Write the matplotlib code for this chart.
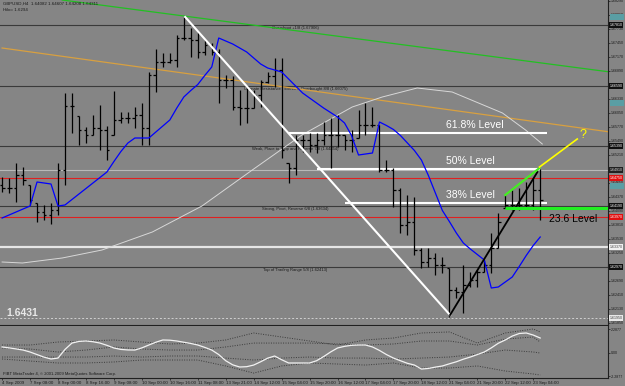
"""GBPUSD H4 chart with Murrey lines and fib levels, MetaTrader style."""
import matplotlib

matplotlib.use("Agg")
import matplotlib.patches as mpatches
import matplotlib.pyplot as plt
import matplotlib.transforms as mtrans

BG = "#858585"
FONT = ["Liberation Sans", "DejaVu Sans"]
plt.rcParams["font.family"] = FONT

# ---- price bars (H4) ----
highs = [1.6477, 1.6475, 1.6505, 1.6497, 1.6461, 1.6425, 1.6421, 1.6425, 1.6505, 1.6645,
         1.6645, 1.6599, 1.6577, 1.6601, 1.6621, 1.6579, 1.6649, 1.6607, 1.6607, 1.6617,
         1.6625, 1.6687, 1.6733, 1.6725, 1.6725, 1.6761, 1.6797, 1.6775, 1.6767, 1.6753,
         1.6745, 1.6733, 1.6681, 1.6679, 1.6651, 1.6655, 1.6651, 1.6671, 1.6687, 1.6715,
         1.6715, 1.6505, 1.6561, 1.6561, 1.6565, 1.6565, 1.6587, 1.6595, 1.6601, 1.6561,
         1.6571, 1.6611, 1.6625, 1.6617, 1.6581, 1.6511, 1.6495, 1.6455, 1.6441, 1.6437,
         1.6335, 1.6335, 1.6325, 1.6317, 1.6295, 1.6257, 1.6301, 1.6287, 1.6291, 1.6311,
         1.6365, 1.6405, 1.6441, 1.6451, 1.6455, 1.6467, 1.6475, 1.6493]
lows = [1.6447, 1.6445, 1.6427, 1.6461, 1.6421, 1.6387, 1.6391, 1.6383, 1.6401, 1.6461,
        1.6565, 1.6541, 1.6545, 1.6561, 1.6531, 1.6511, 1.6561, 1.6585, 1.6585, 1.6575,
        1.6541, 1.6541, 1.6647, 1.6697, 1.6705, 1.6697, 1.6751, 1.6717, 1.6715, 1.6721,
        1.6721, 1.6625, 1.6655, 1.6611, 1.6581, 1.6585, 1.6615, 1.6617, 1.6665, 1.6657,
        1.6515, 1.6465, 1.6481, 1.6527, 1.6527, 1.6525, 1.6541, 1.6495, 1.6537, 1.6531,
        1.6527, 1.6555, 1.6561, 1.6577, 1.6487, 1.6487, 1.6417, 1.6365, 1.6361, 1.6321,
        1.6295, 1.6297, 1.6281, 1.6285, 1.6197, 1.6235, 1.6205, 1.6257, 1.6257, 1.6287,
        1.6285, 1.6335, 1.6415, 1.6411, 1.6411, 1.6415, 1.6411, 1.6391]
opens = [1.6461, 1.6455, 1.6455, 1.6481, 1.6461, 1.6425, 1.6407, 1.6401, 1.6411, 1.6491,
         1.6619, 1.6599, 1.6571, 1.6561, 1.6575, 1.6571, 1.6561, 1.6591, 1.6595, 1.6595,
         1.6601, 1.6575, 1.6681, 1.6707, 1.6707, 1.6711, 1.6755, 1.6755, 1.6751, 1.6727,
         1.6741, 1.6727, 1.6671, 1.6671, 1.6617, 1.6615, 1.6615, 1.6641, 1.6667, 1.6679,
         1.6691, 1.6505, 1.6495, 1.6551, 1.6551, 1.6541, 1.6551, 1.6561, 1.6561, 1.6561,
         1.6551, 1.6555, 1.6581, 1.6581, 1.6581, 1.6491, 1.6491, 1.6451, 1.6381, 1.6387,
         1.6331, 1.6307, 1.6315, 1.6301, 1.6295, 1.6251, 1.6247, 1.6261, 1.6271, 1.6287,
         1.6301, 1.6335, 1.6415, 1.6421, 1.6421, 1.6421, 1.6421, 1.6451]
closes = [1.6455, 1.6455, 1.6481, 1.6471, 1.6431, 1.6407, 1.6401, 1.6411, 1.6491, 1.6619,
          1.6619, 1.6571, 1.6561, 1.6575, 1.6571, 1.6531, 1.6591, 1.6595, 1.6595, 1.6601,
          1.6575, 1.6681, 1.6707, 1.6707, 1.6711, 1.6755, 1.6755, 1.6751, 1.6727, 1.6741,
          1.6727, 1.6671, 1.6671, 1.6617, 1.6615, 1.6615, 1.6641, 1.6667, 1.6679, 1.6691,
          1.6531, 1.6495, 1.6551, 1.6551, 1.6541, 1.6551, 1.6561, 1.6561, 1.6561, 1.6551,
          1.6551, 1.6581, 1.6581, 1.6581, 1.6491, 1.6491, 1.6451, 1.6381, 1.6387, 1.6331,
          1.6307, 1.6315, 1.6301, 1.6301, 1.6251, 1.6247, 1.6261, 1.6271, 1.6287, 1.6301,
          1.6335, 1.6387, 1.6421, 1.6421, 1.6421, 1.6421, 1.6451, 1.6431]
ma = [1.6395, 1.6401, 1.6407, 1.6413, 1.6419, 1.6467, 1.6465, 1.6463, 1.6419, 1.6421,
      1.6432, 1.6443, 1.6454, 1.6465, 1.6476, 1.6487, 1.6508, 1.6528, 1.6545, 1.6555,
      1.6555, 1.6555, 1.6567, 1.6579, 1.6591, 1.6615, 1.6637, 1.6650, 1.6662, 1.6680,
      1.6697, 1.6755, 1.6749, 1.6743, 1.6735, 1.6727, 1.6715, 1.6703, 1.6695, 1.6691,
      1.6687, 1.6673, 1.6659, 1.6645, 1.6635, 1.6625, 1.6615, 1.6606, 1.6597, 1.6585,
      1.6560, 1.6521, 1.6523, 1.6525, 1.6587, 1.6580, 1.6572, 1.6560, 1.6545, 1.6530,
      1.6511, 1.6480, 1.6445, 1.6410, 1.6388, 1.6365, 1.6345, 1.6333, 1.6322, 1.6311,
      1.6255, 1.6257, 1.6267, 1.6277, 1.6298, 1.6320, 1.6340, 1.6357]
bars = list(range(len(closes)))

# ---- oscillator panel ----
osc = [0.54, 0.45, 0.35, 0.24, 0.05, -0.20, -0.45, -0.63, -0.54, 0.30,
       0.92, 1.08, 1.12, 1.05, 0.92, 0.70, 0.44, 0.30, 0.25, 0.24,
       0.45, 0.73, 1.00, 1.22, 1.20, 1.12, 1.00, 0.88, 0.73, 0.50,
       0.24, -0.20, -0.80, -1.20, -1.41, -1.38, -1.22, -0.90, -0.55, -0.34,
       -0.70, -1.02, -1.02, -1.02, -1.02, -0.80, -0.40, 0.05, 0.44, 0.60,
       0.70, 0.73, 0.73, 0.54, 0.20, -0.20, -0.54, -0.80, -1.05, -1.22,
       -1.61, -1.55, -1.42, -1.31, -1.10, -0.90, -0.65, -0.44, -0.20, 0.05,
       0.45, 0.90, 1.22, 1.60, 1.85, 1.90, 1.70, 1.41]
band_x = [0, 4, 8, 12, 16, 20, 24, 28, 32, 36, 40, 44, 48, 52, 56, 60, 64, 68, 72, 76, 77]
band_a = [0.73, 0.73, 1.02, 1.12, 1.22, 1.02, 0.83, 0.92, 1.22, 1.90, 1.51,
          1.12, 0.73, 1.22, 1.41, 1.90, 2.00, 0.92, 1.90, 2.29, 2.00]
band_b = [0.44, 0.34, 0.05, 0.24, 0.54, 0.34, 0.24, 0.24, 0.54, 0.92, 0.92,
          0.92, 0.83, 0.73, 0.83, 1.12, 1.12, 0.73, 1.31, 1.51, 1.02]
band_c = [-0.44, -0.44, -0.44, -0.44, -0.34, -0.44, -0.34, -0.34, -0.54, -0.73, -0.54,
          -0.44, -0.54, -0.54, -0.63, -0.54, -0.44, -0.15, 0.24, 0.05, -0.05]
band_d = [-0.63, -0.83, -1.02, -1.02, -0.92, -0.73, -0.73, -0.73, -1.31, -2.00, -1.31,
          -1.02, -1.12, -1.22, -1.02, -1.51, -1.51, -1.31, -1.80, -2.09, -2.19]

# ---- horizontal levels ----
murrey_prices = [1.6781, 1.6659, 1.6539, 1.6419, 1.6297]
murrey_labels = ["Overshoot +1/8 (1.67906)",
                 "Ultimate Resistance - Extreme Overbought 8/8 (1.66075)",
                 "Weak, Place to Stop and Reverse 7/8 (1.64854)",
                 "Strong, Pivot, Reverse 6/8 (1.63634)",
                 "Top of Trading Range 5/8 (1.62413)"]
red_levels = [1.6475, 1.6397]
fib_names = ["61.8% Level", "50% Level", "38% Level"]
fib_prices = [1.6565, 1.6493, 1.6425]
fib_start = [41, 45, 49]
fib_end = [78, 77, 78]
marker_prices = [1.6797, 1.6625, 1.6459]

# ---- drawn objects (bar index, price) ----
white_trend = ([26.2, 64.1], [1.6797, 1.6201])
black_trend = ([64.1, 76.6], [1.6201, 1.6487])
green_slant = ([72, 76.9], [1.6441, 1.6495])
yellow_line = ([76.9, 82.3], [1.6497, 1.6553])
green_long = ([8.6, 87.0], [1.6831, 1.6687])
orange_line = ([0, 87.0], [1.6735, 1.6567])
arc_x = [0, 2.9, 8.6, 14.3, 21.5, 28.6, 35.8, 42.9, 50.1, 54.4, 59.4, 64.4, 71.6, 74.9, 77.3]
arc_y = [1.6307, 1.6305, 1.6315, 1.6331, 1.6367, 1.6419, 1.6491, 1.6561, 1.6617, 1.6637,
         1.6655, 1.6647, 1.6605, 1.6571, 1.6543]

date_labels = ["4 Sep 2009", "7 Sep 08:00", "8 Sep 00:00", "8 Sep 16:00", "9 Sep 08:00",
               "10 Sep 00:00", "10 Sep 16:00", "11 Sep 08:00", "13 Sep 21:00", "14 Sep 12:00",
               "15 Sep 04:00", "15 Sep 20:00", "16 Sep 12:00", "17 Sep 04:00", "17 Sep 20:00",
               "18 Sep 12:00", "21 Sep 04:00", "21 Sep 20:00", "22 Sep 12:00", "23 Sep 04:00"]

SCALE_FS = 2.6


def price_box(ax, price, text, face, color):
    tr = mtrans.blended_transform_factory(ax.transAxes, ax.transData)
    ax.text(1.003, price, text, transform=tr, fontsize=SCALE_FS, color=color, va="center",
            ha="left", clip_on=False, zorder=10,
            bbox=dict(boxstyle="square,pad=0.15", facecolor=face, edgecolor="none"))


def main():
    fig = plt.figure(figsize=(6.25, 3.86), dpi=100, facecolor=BG)
    ax = fig.add_axes([0, 1 - 325 / 386, 608 / 625, 325 / 386], facecolor=BG)
    ox = fig.add_axes([0, 8 / 386, 608 / 625, 52 / 386], facecolor=BG, sharex=ax)
    ax.set_xlim(-0.3, 86.7)
    ax.set_ylim(1.6181, 1.6831)
    ox.set_ylim(-2.48, 2.58)

    for a in (ax, ox):
        for s in ("left", "top"):
            a.spines[s].set_visible(False)
        for s in ("right", "bottom"):
            a.spines[s].set_color("#202020")
            a.spines[s].set_linewidth(0.8)

    # background levels
    for p in murrey_prices:
        ax.axhline(p, color="#3a3a3a", lw=0.8, zorder=1)
    for p, lab in zip(murrey_prices, murrey_labels):
        ax.text(42, p - 0.0002, lab, fontsize=3.0, color="#1a1a1a", ha="center", va="top", zorder=2)
    for p in red_levels:
        ax.axhline(p, color="#e02020", lw=0.8, zorder=1)
    ax.axhline(1.6491, color="#b8b8b8", lw=0.8, zorder=1)
    ax.axhline(1.6337, color="#e6e6e6", lw=1.6, zorder=1)
    ax.axhline(1.6195, color="#d0d0d0", lw=0.7, ls=(0, (2, 2)), zorder=1)

    ax.plot(*green_long, color="#22c022", lw=0.9, zorder=2)
    ax.plot(*orange_line, color="#d8a040", lw=0.9, zorder=2)
    ax.plot(arc_x, arc_y, color="#d8d8d8", lw=0.7, zorder=2)

    # fib levels
    for name, p, s, e in zip(fib_names, fib_prices, fib_start, fib_end):
        ax.hlines(p, s, e, color="white", lw=1.5, zorder=3)
        ax.text(63.5, p + 0.0005, name, fontsize=7.5, color="white", va="bottom", zorder=6)

    # bars
    ax.vlines(bars, lows, highs, color="black", lw=0.9, zorder=4)
    ax.hlines(opens, [b - 0.35 for b in bars], bars, color="black", lw=0.9, zorder=4)
    ax.hlines(closes, bars, [b + 0.35 for b in bars], color="black", lw=0.9, zorder=4)
    ax.plot(bars, ma, color="#0000ff", lw=0.9, zorder=5)

    # drawn trend objects
    ax.plot(*white_trend, color="white", lw=1.5, zorder=5)
    ax.plot(*black_trend, color="black", lw=1.3, zorder=5)
    ax.hlines(1.6415, 72, 86.7, color="#22ee22", lw=2.2, zorder=5)
    ax.plot(*green_slant, color="#44ee22", lw=1.6, zorder=5)
    ax.plot(*yellow_line, color="#ffff00", lw=1.2, zorder=5)
    ax.text(82.6, 1.6561, "?", fontsize=9, color="#ffff00", va="center", zorder=6)
    ax.text(78.2, 1.6392, "23.6 Level", fontsize=7.5, color="black", va="center", zorder=6)
    ax.text(0.6, 1.6205, "1.6431", fontsize=7.5, color="#e8e8e8", fontweight="bold",
            va="center", zorder=6)

    ax.text(0.005, 0.995, "GBPUSD,H4  1.64082 1.64607 1.64208 1.64311", transform=ax.transAxes,
            fontsize=3.2, color="#1a1a1a", va="top")
    ax.text(0.005, 0.975, "Hilo= 1.6294", transform=ax.transAxes,
            fontsize=3.2, color="#1a1a1a", va="top")

    # price scale
    ax.yaxis.tick_right()
    ticks = [1.6185 + 0.0028 * k for k in range(24)]
    ax.set_yticks(ticks)
    ax.set_yticklabels([f"{t:.5f}" for t in ticks])
    ax.tick_params(axis="y", labelsize=SCALE_FS, colors="#1a1a1a", length=1.5, width=0.5, pad=0.8)
    ax.tick_params(axis="x", bottom=False, labelbottom=False)
    for p in murrey_prices:
        price_box(ax, p, f"{p:.5f}", "#101010", "white")
    for p in red_levels:
        price_box(ax, p, f"{p:.5f}", "#e01010", "white")
    price_box(ax, 1.6491, "1.64910", "#202020", "#e0e0e0")
    price_box(ax, 1.6337, "1.63370", "#f0f0f0", "#404040")
    price_box(ax, 1.6195, "1.61950", "#e8e8e8", "#404040")
    tr = mtrans.blended_transform_factory(ax.transAxes, ax.transData)
    for p in marker_prices:
        ax.add_patch(mpatches.Rectangle((1.004, p - 0.0006), 0.022, 0.0012, transform=tr,
                                        facecolor="#5a9ea4", edgecolor="none",
                                        clip_on=False, zorder=9))

    # oscillator
    dots = (0, (1, 1.5))
    for band in (band_a, band_b, band_c, band_d):
        ox.plot(band_x, band, color="#3a3a3a", lw=0.7, ls=dots, zorder=2)
    ox.plot(bars, osc, color="#f2f2f2", lw=0.9, zorder=3)
    ox.yaxis.tick_right()
    ox.set_yticks([2.2877, 0, -2.2877])
    ox.set_yticklabels(["2.2877", "0.00", "-2.2877"])
    ox.tick_params(axis="y", labelsize=SCALE_FS, colors="#1a1a1a", length=1.5, width=0.5, pad=0.8)
    ox.set_xticks(list(range(0, 77, 4)))
    ox.set_xticklabels(date_labels, ha="left")
    ox.tick_params(axis="x", labelsize=3.2, colors="#1a1a1a", length=1.5, width=0.5, pad=0.5)
    ox.text(0.005, 0.03, "FIBT MetaTrader 4, \u00a9 2001-2009 MetaQuotes Software Corp.",
            transform=ox.transAxes, fontsize=3.0, color="#1a1a1a", va="bottom")

    fig.savefig("out.png", dpi=100, facecolor=BG)
    plt.close(fig)


if __name__ == "__main__":
    main()
